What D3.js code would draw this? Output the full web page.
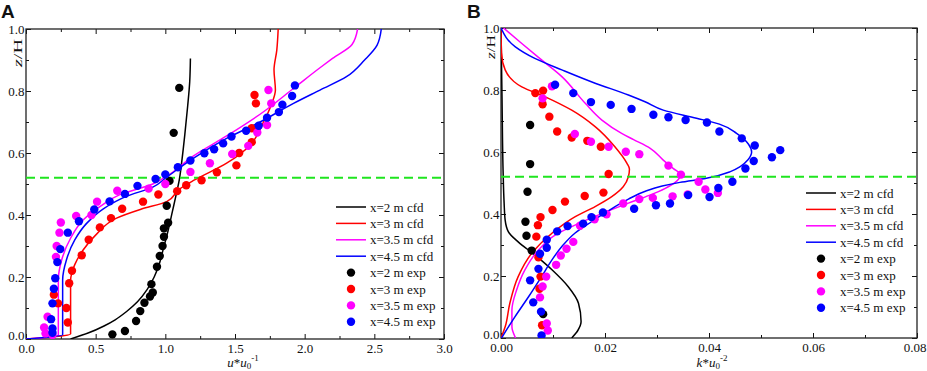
<!DOCTYPE html>
<html><head><meta charset="utf-8">
<script src="https://cdn.jsdelivr.net/npm/d3@7"></script>
<style>
body{margin:0;background:#fff}
svg{display:block}
text{font-family:"Liberation Serif","Times New Roman",serif}
</style>
</head><body><svg id="c" width="927" height="371"></svg>
<script>
// ---------- DATA ----------
const seriesNames = ["x=2 m", "x=3 m", "x=3.5 m", "x=4.5 m"];
const refLevel = 0.52;   // z/H of the dashed reference line

const aXTicks = [0, 0.5, 1.0, 1.5, 2.0, 2.5, 3.0];
const aYTicks = [0, 0.2, 0.4, 0.6, 0.8, 1.0];
const bXTicks = [0, 0.02, 0.04, 0.06, 0.08];
const bYTicks = [0, 0.2, 0.4, 0.6, 0.8, 1.0];

// Panel A: u*u0^-1 vs z/H
const aCfd2 = [[0.32,0],[0.45,0.02],[0.56,0.042],[0.64,0.062],[0.72,0.088],[0.80,0.12],[0.87,0.16],[0.92,0.2],[0.955,0.24],[0.985,0.29],[1.02,0.35],[1.05,0.41],[1.075,0.46],[1.10,0.513],[1.12,0.58],[1.14,0.66],[1.16,0.75],[1.175,0.83],[1.18,0.905]];
const aCfd3 = [[0,0],[0.32,0.016],[0.32,0.19],[0.33,0.215],[0.35,0.24],[0.41,0.287],[0.51,0.34],[0.65,0.39],[0.82,0.418],[1.01,0.443],[1.10,0.483],[1.21,0.513],[1.44,0.567],[1.61,0.626],[1.70,0.696],[1.76,0.755],[1.79,0.803],[1.78,0.868],[1.80,0.932],[1.81,1.0]];
const aCfd35 = [[0,0],[0.232,0.011],[0.232,0.19],[0.256,0.255],[0.32,0.325],[0.41,0.384],[0.53,0.427],[0.67,0.465],[0.91,0.5],[1.01,0.525],[1.20,0.59],[1.44,0.655],[1.68,0.725],[1.93,0.812],[2.11,0.875],[2.20,0.905],[2.34,0.95],[2.38,1.0]];
const aCfd45 = [[0,0],[0.263,0.014],[0.263,0.19],[0.29,0.255],[0.35,0.32],[0.435,0.373],[0.555,0.42],[0.72,0.46],[0.91,0.49],[1.01,0.522],[1.20,0.583],[1.44,0.647],[1.68,0.70],[1.92,0.76],[2.11,0.803],[2.30,0.846],[2.43,0.90],[2.52,0.948],[2.55,1.0]];

const aExp2 = [[0.62,0.015],[0.71,0.026],[0.79,0.058],[0.82,0.09],[0.85,0.117],[0.89,0.137],[0.91,0.15],[0.90,0.177],[0.94,0.233],[0.96,0.268],[0.98,0.30],[0.99,0.33],[0.99,0.357],[1.02,0.375],[1.01,0.43],[1.03,0.51],[1.06,0.665],[1.10,0.81]];
const aExp3 = [[0.30,0.053],[0.29,0.10],[0.23,0.115],[0.20,0.143],[0.31,0.18],[0.33,0.22],[0.40,0.27],[0.45,0.32],[0.53,0.36],[0.61,0.39],[0.69,0.42],[0.84,0.443],[0.95,0.466],[1.085,0.477],[1.15,0.496],[1.26,0.512],[1.37,0.538],[1.51,0.56],[1.53,0.60],[1.62,0.635],[1.62,0.68],[1.65,0.76],[1.64,0.787]];
const aExp35 = [[0.14,0.018],[0.19,0.013],[0.13,0.037],[0.155,0.072],[0.215,0.265],[0.22,0.30],[0.24,0.343],[0.25,0.376],[0.36,0.397],[0.47,0.40],[0.51,0.443],[0.655,0.478],[0.88,0.485],[1.00,0.50],[1.18,0.539],[1.32,0.567],[1.48,0.597],[1.595,0.623],[1.66,0.666],[1.73,0.69],[1.76,0.76],[1.74,0.803]];
const aExp45 = [[0.19,0.02],[0.19,0.034],[0.18,0.064],[0.19,0.115],[0.20,0.162],[0.21,0.196],[0.225,0.248],[0.246,0.29],[0.30,0.343],[0.38,0.38],[0.49,0.418],[0.60,0.444],[0.71,0.468],[0.80,0.494],[0.93,0.516],[1.00,0.531],[1.09,0.554],[1.18,0.576],[1.28,0.599],[1.35,0.612],[1.415,0.631],[1.475,0.653],[1.58,0.672],[1.67,0.688],[1.73,0.714],[1.815,0.732],[1.84,0.756],[1.91,0.784],[1.93,0.818]];

// Panel B: k*u0^-2 vs z/H
const bCfd2 = [[0.0136,0],[0.0148,0.025],[0.0154,0.053],[0.0149,0.112],[0.0129,0.166],[0.0098,0.22],[0.0065,0.268],[0.0033,0.31],[0.0014,0.343],[0.0008,0.38],[0.0006,0.435],[0.0004,0.54],[0.0002,0.77],[0,1.0]];
const bCfd3 = [[0,0],[0.0008,0.036],[0.0017,0.112],[0.0033,0.198],[0.0059,0.273],[0.0098,0.338],[0.0142,0.391],[0.0181,0.424],[0.0213,0.456],[0.0235,0.488],[0.0245,0.52],[0.0247,0.545],[0.0242,0.564],[0.0219,0.617],[0.0181,0.682],[0.0136,0.735],[0.0085,0.778],[0.004,0.81],[0.0008,0.865],[0.0001,0.92],[0,1.0]];
const bCfd35 = [[0.0028,0],[0.0021,0.036],[0.0021,0.09],[0.003,0.155],[0.0046,0.22],[0.0072,0.284],[0.0104,0.332],[0.015,0.37],[0.0195,0.402],[0.0245,0.435],[0.0285,0.46],[0.0315,0.482],[0.0335,0.502],[0.0345,0.527],[0.0331,0.547],[0.0312,0.574],[0.0287,0.612],[0.0255,0.64],[0.0232,0.66],[0.0194,0.703],[0.0162,0.757],[0.0117,0.843],[0.0078,0.897],[0.004,0.95],[0.0005,1.0]];
const bCfd45 = [[0.0001,0],[0.0027,0.069],[0.0053,0.133],[0.0078,0.198],[0.0098,0.252],[0.0117,0.295],[0.0142,0.338],[0.0174,0.375],[0.0206,0.41],[0.0245,0.448],[0.028,0.475],[0.031,0.49],[0.0344,0.502],[0.0395,0.515],[0.044,0.536],[0.046,0.553],[0.0475,0.575],[0.0482,0.6],[0.0476,0.625],[0.0453,0.66],[0.042,0.69],[0.0376,0.709],[0.0312,0.735],[0.0277,0.762],[0.0245,0.784],[0.0181,0.822],[0.0117,0.865],[0.0065,0.902],[0.0027,0.94],[0,1.0]];

const bExp2 = [[0.0081,0.077],[0.0059,0.282],[0.0049,0.33],[0.0047,0.375],[0.0051,0.472],[0.0056,0.561],[0.0056,0.687]];
const bExp3 = [[0.0079,0.041],[0.0074,0.159],[0.0076,0.198],[0.0072,0.26],[0.0068,0.327],[0.0071,0.364],[0.0076,0.39],[0.0099,0.413],[0.0123,0.44],[0.0161,0.458],[0.0197,0.469],[0.0207,0.529],[0.0192,0.617],[0.0166,0.636],[0.0136,0.647],[0.0108,0.666],[0.0093,0.714],[0.008,0.754],[0.0066,0.79],[0.0081,0.798]];
const bExp35 = [[0.009,0.024],[0.0088,0.047],[0.0075,0.131],[0.008,0.166],[0.0087,0.198],[0.0106,0.236],[0.0115,0.266],[0.0126,0.288],[0.0139,0.31],[0.0152,0.362],[0.018,0.383],[0.0203,0.399],[0.0235,0.434],[0.0266,0.448],[0.0292,0.452],[0.033,0.457],[0.0359,0.463],[0.0417,0.468],[0.0393,0.479],[0.038,0.504],[0.0346,0.527],[0.0322,0.556],[0.0266,0.593],[0.024,0.601],[0.0207,0.617],[0.0173,0.633],[0.0142,0.658],[0.008,0.773],[0.0098,0.812]];
const bExp45 = [[0.0078,0.008],[0.0077,0.085],[0.0062,0.115],[0.0056,0.186],[0.0072,0.223],[0.0075,0.272],[0.0088,0.291],[0.0088,0.317],[0.0108,0.344],[0.0128,0.361],[0.0158,0.369],[0.0174,0.39],[0.0196,0.405],[0.0256,0.417],[0.0298,0.428],[0.0325,0.434],[0.036,0.461],[0.0401,0.455],[0.0418,0.484],[0.0445,0.504],[0.047,0.547],[0.0486,0.571],[0.0521,0.583],[0.0537,0.606],[0.0488,0.621],[0.0463,0.644],[0.042,0.666],[0.0396,0.695],[0.0355,0.703],[0.0322,0.712],[0.0293,0.72],[0.0251,0.739],[0.0211,0.752],[0.0173,0.761],[0.0139,0.79],[0.0104,0.817]];

// ---------- STYLE ----------
const colors = ["#000000", "#ff0000", "#ff00ff", "#0000ff"];
const svg = d3.select("#c");
const W = 927;

function drawPanel(cfg) {
  const {L, R, T, B} = cfg;
  const x = d3.scaleLinear().domain(cfg.xDomain).range([L, R]);
  const y = d3.scaleLinear().domain([0, 1]).range([B, T]);
  const g = svg.append("g");
  const cid = "clip" + cfg.id;
  svg.append("defs").append("clipPath").attr("id", cid)
    .append("rect").attr("x", L).attr("y", T).attr("width", R - L).attr("height", B - T);

  const styleAxis = sel => {
    sel.select(".domain").remove();
    sel.selectAll("line").attr("stroke", "#111").attr("stroke-width", 1);
    sel.attr("font-family", "'Liberation Serif','Times New Roman',serif").attr("font-size", 13);
    sel.selectAll("text").attr("fill", "#111");
  };
  const xMinor = d3.range(cfg.xDomain[0], cfg.xDomain[1] + 1e-9, cfg.xMinorStep)
    .filter(v => !cfg.xTicks.some(t => Math.abs(t - v) < 1e-9));
  const yMinor = d3.range(0, 1 + 1e-9, 0.1)
    .filter(v => !cfg.yTicks.some(t => Math.abs(t - v) < 1e-9));

  const bx = g.append("g").attr("transform", `translate(0,${B})`)
    .call(d3.axisBottom(x).tickValues(cfg.xTicks).tickFormat(d3.format(cfg.xFmt)).tickSize(-5).tickPadding(5)).call(styleAxis);
  bx.selectAll(".tick text").each(function(d) {
    const t = d3.select(this);
    const w = this.getComputedTextLength();
    if (x(d) + w / 2 > W - 1) t.attr("text-anchor", "end").attr("x", (W - 1) - x(d));
  });
  g.append("g").attr("transform", `translate(0,${B})`)
    .call(d3.axisBottom(x).tickValues(xMinor).tickFormat("").tickSize(-3)).call(styleAxis);
  g.append("g").attr("transform", `translate(0,${T})`)
    .call(d3.axisTop(x).tickValues(cfg.xTicks).tickFormat("").tickSize(-5)).call(styleAxis);
  g.append("g").attr("transform", `translate(0,${T})`)
    .call(d3.axisTop(x).tickValues(xMinor).tickFormat("").tickSize(-3)).call(styleAxis);
  const ly = g.append("g").attr("transform", `translate(${L},0)`)
    .call(d3.axisLeft(y).tickValues(cfg.yTicks).tickFormat(d3.format(".1f")).tickSize(-5).tickPadding(1.5)).call(styleAxis);
  // lift the bottom label slightly so it clears the x labels
  ly.selectAll(".tick text").filter(d => d === 0).attr("dy", "0.05em");
  g.append("g").attr("transform", `translate(${L},0)`)
    .call(d3.axisLeft(y).tickValues(yMinor).tickFormat("").tickSize(-3)).call(styleAxis);
  g.append("g").attr("transform", `translate(${R},0)`)
    .call(d3.axisRight(y).tickValues(cfg.yTicks).tickFormat("").tickSize(-5)).call(styleAxis);
  g.append("g").attr("transform", `translate(${R},0)`)
    .call(d3.axisRight(y).tickValues(yMinor).tickFormat("").tickSize(-3)).call(styleAxis);

  g.append("rect").attr("x", L).attr("y", T).attr("width", R - L).attr("height", B - T)
    .attr("fill", "none").attr("stroke", "#222").attr("stroke-width", 1.3);

  const plot = g.append("g").attr("clip-path", `url(#${cid})`);
  const line = d3.line().x(d => x(d[0])).y(d => y(d[1])).curve(d3.curveMonotoneY);
  cfg.cfd.forEach((s, i) => {
    plot.append("path").attr("d", line(s)).attr("fill", "none")
      .attr("stroke", colors[i]).attr("stroke-width", 1.5);
  });
  plot.append("line").attr("x1", L).attr("x2", R).attr("y1", y(refLevel)).attr("y2", y(refLevel))
    .attr("stroke", "#1fe51f").attr("stroke-width", 2).attr("stroke-dasharray", "9,5");
  cfg.exp.forEach((s, i) => {
    plot.append("g").selectAll("circle").data(s).join("circle")
      .attr("cx", d => x(d[0])).attr("cy", d => y(d[1])).attr("r", 4.2).attr("fill", colors[i]);
  });

  const lg = g.append("g");
  const rowH = 16.4;
  const items = seriesNames.map((n, i) => ({label: n + " cfd", type: "line", c: colors[i]}))
    .concat(seriesNames.map((n, i) => ({label: n + " exp", type: "dot", c: colors[i]})));
  items.forEach((it, i) => {
    const yy = cfg.legY + i * rowH;
    if (it.type === "line") {
      lg.append("line").attr("x1", cfg.legX).attr("x2", cfg.legX + 30).attr("y1", yy).attr("y2", yy)
        .attr("stroke", it.c).attr("stroke-width", 1.5);
    } else {
      lg.append("circle").attr("cx", cfg.legX + 15).attr("cy", yy).attr("r", 4.2).attr("fill", it.c);
    }
    lg.append("text").attr("x", cfg.legX + 34).attr("y", yy).attr("dy", "0.35em")
      .attr("font-size", 13).attr("fill", "#111").text(it.label);
  });

  const xt = g.append("text").attr("x", cfg.xTitleX).attr("y", 367).attr("text-anchor", "middle")
    .attr("font-size", 13).attr("fill", "#111");
  xt.append("tspan").attr("font-style", "italic").text(cfg.xVar);
  xt.append("tspan").text("*");
  xt.append("tspan").attr("font-style", "italic").text("u");
  xt.append("tspan").attr("font-size", 9).attr("dy", 2).text("0");
  xt.append("tspan").attr("font-size", 9).attr("dy", -8).text(cfg.xPow);

  const yt = g.append("text").attr("transform", `translate(${cfg.yTitleX},${cfg.yTitleY}) rotate(-90)`)
    .attr("text-anchor", "middle").attr("font-size", 13).attr("fill", "#111")
    .attr("textLength", cfg.yTitleLen).attr("lengthAdjust", "spacingAndGlyphs");
  yt.append("tspan").attr("font-style", "italic").text("z");
  yt.append("tspan").text("/H");

  svg.append("text").attr("x", cfg.letterX).attr("y", 17.5).attr("font-size", 19).attr("font-weight", "bold")
    .style("font-family", "'Liberation Sans',Arial,sans-serif")
    .attr("fill", "#111").text(cfg.letter);
}

drawPanel({
  id: "A", letter: "A", letterX: 1, L: 26, R: 444, T: 29, B: 339,
  xDomain: [0, 3], xTicks: aXTicks, yTicks: aYTicks, xMinorStep: 0.25, xFmt: ".1f",
  cfd: [aCfd2, aCfd3, aCfd35, aCfd45], exp: [aExp2, aExp3, aExp35, aExp45],
  legX: 336, legY: 207, xTitleX: 243, xVar: "u", xPow: "-1", yTitleX: 22, yTitleY: 53, yTitleLen: 28
});
drawPanel({
  id: "B", letter: "B", letterX: 467, L: 501, R: 917, T: 28, B: 338,
  xDomain: [0, 0.08], xTicks: bXTicks, yTicks: bYTicks, xMinorStep: 0.01, xFmt: ".2f",
  cfd: [bCfd2, bCfd3, bCfd35, bCfd45], exp: [bExp2, bExp3, bExp35, bExp45],
  legX: 806, legY: 193, xTitleX: 712, xVar: "k", xPow: "-2", yTitleX: 495, yTitleY: 47, yTitleLen: 24
});
</script></body></html>
